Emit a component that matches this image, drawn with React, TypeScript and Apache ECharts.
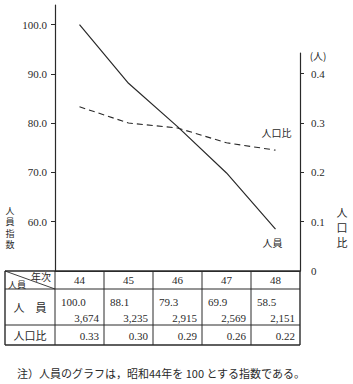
import React, { useEffect, useRef } from "react";
import * as echarts from "echarts";

const years = ["44", "45", "46", "47", "48"];
const staffIndex = [100.0, 88.1, 79.3, 69.9, 58.5];
const staffCount = ["3,674", "3,235", "2,915", "2,569", "2,151"];
const ratioPlotted = [0.333, 0.3, 0.29, 0.26, 0.245];
const ratioTable = ["0.33", "0.30", "0.29", "0.26", "0.22"];
const leftTicks = [60, 70, 80, 90, 100];
const rightTicks = [0.1, 0.2, 0.3, 0.4];
const rightLabels = [0, 0.1, 0.2, 0.3, 0.4];

const SERIF = "serif";
const CJK = "Noto Sans CJK JP";
const INK = "#2a2a2a";

export default function App() {
  const ref = useRef<HTMLDivElement>(null);
  useEffect(() => {
    if (!ref.current) return;
    const chart = echarts.init(ref.current, null, { renderer: "svg" });
    const base: any = {
      animation: false,
      backgroundColor: "#ffffff",
      grid: [
        { left: 55, top: 5, width: 245, height: 266 },
        { left: 55, top: 53, width: 245, height: 218 },
      ],
      xAxis: [
        {
          type: "category", gridIndex: 0, data: years, boundaryGap: true,
          axisLine: { show: true, lineStyle: { color: INK, width: 1.2 } },
          axisTick: { show: false }, axisLabel: { show: false }, splitLine: { show: false },
        },
        {
          type: "category", gridIndex: 1, data: years, boundaryGap: true, show: false,
        },
      ],
      yAxis: [
        {
          type: "value", gridIndex: 0, position: "left", min: 50, max: 104, interval: 10,
          axisLine: { show: true, lineStyle: { color: INK, width: 1.2 } },
          axisTick: { show: true, length: 4, inside: false, customValues: leftTicks, lineStyle: { color: INK } },
          axisLabel: {
            customValues: leftTicks, margin: 8, color: INK, fontSize: 11, fontFamily: SERIF,
            formatter: (v: number) => v.toFixed(1),
          },
          splitLine: { show: false },
        },
        {
          type: "value", gridIndex: 1, position: "right", min: 0, max: 0.442, interval: 0.1,
          axisLine: { show: true, lineStyle: { color: INK, width: 1.2 } },
          axisTick: { show: true, length: 4, customValues: rightTicks, lineStyle: { color: INK } },
          axisLabel: {
            customValues: rightLabels, margin: 11, color: INK, fontSize: 11, fontFamily: SERIF,
            formatter: (v: number) => (v === 0 ? "0" : v.toFixed(1)),
          },
          splitLine: { show: false },
        },
      ],
      series: [
        {
          name: "人員", type: "line", xAxisIndex: 0, yAxisIndex: 0, data: staffIndex,
          symbol: "none", lineStyle: { color: INK, width: 1.2 },
        },
        {
          name: "人口比", type: "line", xAxisIndex: 1, yAxisIndex: 1, data: ratioPlotted,
          symbol: "none", lineStyle: { color: INK, width: 1.1, type: [6, 4] },
        },
      ],
    };
    chart.setOption(base);

    const cx = (i: number) => chart.convertToPixel({ xAxisIndex: 0 }, i) as number;
    const yl = (v: number) => chart.convertToPixel({ yAxisIndex: 0 }, v) as number;
    const yr = (v: number) => chart.convertToPixel({ yAxisIndex: 1 }, v) as number;
    const band = cx(1) - cx(0);
    const tableLeft = 5;
    const tableTop = yl(50);
    const rows = [tableTop, tableTop + 18, tableTop + 54, tableTop + 74];
    const colEdges = [tableLeft, cx(0) - band / 2];
    years.forEach((_, i) => colEdges.push(cx(i) + band / 2));
    const tableRight = colEdges[colEdges.length - 1];

    const g: any[] = [];
    const line = (x1: number, y1: number, x2: number, y2: number, w = 1) =>
      g.push({ type: "line", shape: { x1, y1, x2, y2 }, style: { stroke: INK, lineWidth: w }, silent: true });
    const text = (t: string, x: number, y: number, o: any = {}) =>
      g.push({
        type: "text", x, y, silent: true,
        style: {
          text: t, fill: INK, fontSize: o.fontSize || 11, fontFamily: o.fontFamily || SERIF,
          align: o.align || "center", verticalAlign: "middle",
          fontWeight: o.fontWeight || "normal",
        },
      });
    const vtext = (t: string, x: number, yStart: number, step: number, o: any = {}) =>
      Array.from(t).forEach((ch, k) => text(ch, x, yStart + k * step, o));

    rows.forEach((y, k) => line(tableLeft, y, tableRight, y, k === 0 || k === 3 ? 1.4 : 1));
    colEdges.forEach((x, k) => line(x, rows[0], x, rows[3], k === 0 || k === colEdges.length - 1 ? 1.4 : 1));
    line(tableLeft, rows[0], colEdges[1], rows[1], 0.9);

    text("年次", colEdges[1] - 14, rows[0] + 5, { fontFamily: CJK, fontSize: 10 });
    text("人員", tableLeft + 3, rows[1] - 5, { fontFamily: CJK, fontSize: 9, align: "left" });
    text("人　員", (tableLeft + colEdges[1]) / 2, (rows[1] + rows[2]) / 2, { fontFamily: CJK, fontSize: 11 });
    text("人口比", (tableLeft + colEdges[1]) / 2, (rows[2] + rows[3]) / 2, { fontFamily: CJK, fontSize: 11 });

    years.forEach((yv, i) => {
      const l = colEdges[i + 1];
      const r = colEdges[i + 2];
      text(yv, cx(i), (rows[0] + rows[1]) / 2);
      text(staffIndex[i].toFixed(1), l + 6, rows[1] + 13, { align: "left" });
      text(staffCount[i], r - 5, rows[1] + 29, { align: "right" });
      text(ratioTable[i], r - 5, (rows[2] + rows[3]) / 2 + 1, { align: "right" });
    });

    // series labels
    const last = years.length - 1;
    text("人口比", cx(last) + 1, yr(ratioPlotted[last]) - 18, { fontFamily: CJK, fontSize: 10 });
    text("人員", cx(last) - 3, yl(staffIndex[last]) + 13, { fontFamily: CJK, fontSize: 10 });

    // axis names
    vtext("人員指数", 10, 210, 11.5, { fontFamily: CJK, fontSize: 9 });
    vtext("人口比", 342, 212, 15, { fontFamily: CJK, fontSize: 11 });
    text("(人)", 318, 55, { fontFamily: CJK, fontSize: 10 });

    // footnote
    text("注）人員のグラフは，昭和44年を 100 とする指数である。", 17, 373, {
      fontFamily: CJK, fontSize: 11, align: "left",
    });

    chart.setOption({ graphic: g });
    return () => chart.dispose();
  }, []);
  return (
    <div
      ref={ref}
      style={{ position: "fixed", left: 0, top: 0, width: 353, height: 384 }}
    />
  );
}
